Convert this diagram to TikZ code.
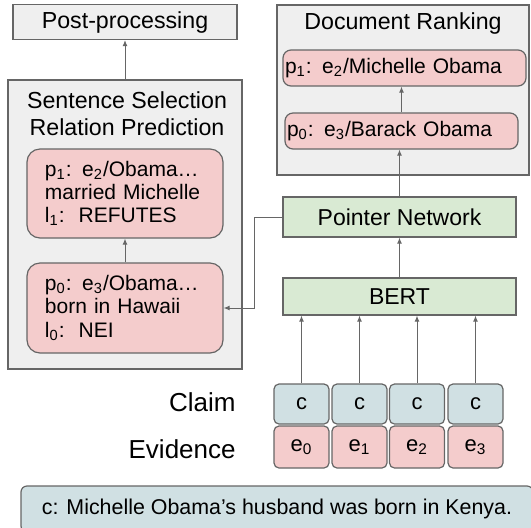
\documentclass[tikz,border=0pt]{standalone}
\usepackage{fontspec}
\setmainfont{Liberation Sans}
\usetikzlibrary{arrows.meta}
\definecolor{boxgray}{HTML}{EFEFEF}
\definecolor{linegray}{HTML}{666666}
\definecolor{boxpink}{HTML}{F4CCCC}
\definecolor{boxgreen}{HTML}{D9EAD3}
\definecolor{boxblue}{HTML}{D0E0E3}
\begin{document}
\begin{tikzpicture}[x=0.5pt,y=-0.5pt,
    panel/.style={draw=linegray,line width=0.6pt,fill=boxgray,inner sep=0pt},
    sentbox/.style={draw=linegray,line width=0.6pt,fill=boxpink,rounded corners=6.5pt,
      minimum width=98pt,text width=80pt,align=left,inner xsep=9pt,
      font=\fontsize{10.5}{11.6}\selectfont},
    docbox/.style={draw=linegray,line width=0.6pt,fill=boxpink,rounded corners=4pt,
      minimum height=18pt,align=left,inner xsep=1pt,font=\fontsize{10.5}{12}\selectfont},
    netbox/.style={draw=linegray,line width=0.6pt,fill=boxgreen,minimum width=116.5pt,
      font=\fontsize{11.5}{13}\selectfont},
    tok/.style={draw=linegray,line width=0.6pt,rounded corners=2.5pt,minimum width=27.5pt,
      font=\fontsize{11}{13}\selectfont},
    label/.style={font=\fontsize{13}{15}\selectfont,anchor=east,inner sep=0pt},
    title/.style={font=\fontsize{11.6}{13.5}\selectfont,align=center},
    arr/.style={draw=linegray,line width=0.5pt,-{Latex[length=3pt,width=2.5pt]}}]
  \useasboundingbox (0,0) rectangle (531,527);

  % left column
  \node[panel,minimum width=112pt,minimum height=17.5pt,title] (post) at (125,22) {Post-processing};
  \node[panel,minimum width=117pt,minimum height=144.5pt] (sent) at (125,224.5) {};
  \node[title] (senttitle) at (127,114) {Sentence Selection\\Relation Prediction};
  \node[sentbox,minimum height=44.5pt] (sp1) at (125,193.5)
    {p\textsubscript{1}: e\textsubscript{2}/Obama…\\married Michelle\\l\textsubscript{1}:\ \ REFUTES};
  \node[sentbox,minimum height=45pt] (sp0) at (125,308)
    {p\textsubscript{0}: e\textsubscript{3}/Obama…\\born in Hawaii\\l\textsubscript{0}:\ \ NEI};

  % right column
  \node[panel,minimum width=126pt,minimum height=85pt] (doc) at (403,90) {};
  \node[title] (doctitle) at (403,23) {Document Ranking};
  \node[docbox,minimum width=121.5pt,text width=119.5pt] (dp1) at (404.5,68)
    {p\textsubscript{1}: e\textsubscript{2}/Michelle Obama};
  \node[docbox,minimum width=116.5pt,text width=114.5pt] (dp0) at (401.5,131)
    {p\textsubscript{0}: e\textsubscript{3}/Barack Obama};
  \node[netbox,minimum height=20pt] (pn) at (399.5,217) {Pointer Network};
  \node[netbox,minimum height=18.5pt] (bert) at (399.5,296.5) {BERT};

  % inputs
  \node[label] (claim) at (236,402.5) {Claim};
  \node[label] (evid) at (236,449) {Evidence};
  \foreach \i/\x in {0/301.5,1/359.5,2/417,3/475.5}{
    \node[tok,fill=boxblue,minimum height=20pt] (c\i) at (\x,404) {c};
    \node[tok,fill=boxpink,minimum height=21pt] (e\i) at (\x,447) {e\textsubscript{\i}};
    \draw[arr] (c\i.north) -- (c\i.north |- bert.south);
  }
  \node[draw=linegray,line width=0.6pt,fill=boxblue,rounded corners=3pt,
    minimum width=256pt,minimum height=23pt,font=\fontsize{10.7}{12}\selectfont]
    (claimtext) at (277,509) {c: Michelle Obama’s husband was born in Kenya.};

  % connectors
  \coordinate (bend) at (254,217);
  \draw[arr] (sent.north) -- (post.south);
  \draw[arr] (sp0.north) -- (sp1.south);
  \draw[arr] (pn.west) -- (bend) |- (sp0.east);
  \draw[arr] (bert.north) -- (pn.south);
  \draw[arr] (pn.north) -- (pn.north |- dp0.south);
  \draw[arr] (dp0.north) -- (dp0.north |- dp1.south);
\end{tikzpicture}
\end{document}
